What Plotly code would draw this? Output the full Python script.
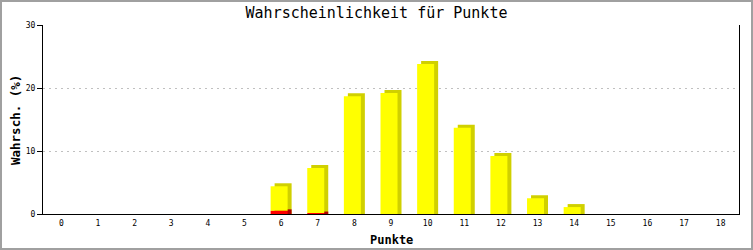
import plotly.graph_objects as go

# ---- data ----
punkte = list(range(19))
tick_labels = [str(p) for p in punkte]
red_vals = [0, 0, 0, 0, 0, 0, 0.5, 0.15, 0, 0, 0, 0, 0, 0, 0, 0, 0, 0, 0]
total_vals = [0, 0, 0, 0, 0, 0, 4.4, 7.3, 18.7, 19.2, 23.8, 13.7, 9.2, 2.5, 1.1, 0, 0, 0, 0]
yellow_vals = [t - r for t, r in zip(total_vals, red_vals)]

title_text = "Wahrscheinlichkeit für Punkte"
x_title = "Punkte"
y_title = "Wahrsch. (%)"

# ---- geometry / style ----
W, H = 753, 250
ML, MR, MT, MB = 43, 14, 25, 36
PW, PH = W - ML - MR, H - MT - MB
px_x = 19 / PW          # data units per px in x
px_y = 30 / PH          # data units per px in y
bar_w = 17 * px_x
front_off = -10.5 * px_x
depth_x = 4 * px_x
depth_y = 3 * px_y

YEL, YEL_D = "#ffff00", "#d0d000"
RED, RED_D = "#ff0000", "#b00000"

shadow_y = [t + depth_y if t > 0 else None for t in total_vals]
red_shadow = [r + depth_y * 0.5 if r > 0 else None for r in red_vals]
red_front = [r if r > 0 else None for r in red_vals]
yel_front = [y if y > 0 else None for y in yellow_vals]

fig = go.Figure()
common = dict(width=[bar_w] * len(punkte), hoverinfo="skip", showlegend=False)
fig.add_bar(x=punkte, y=shadow_y, base=0, offset=front_off + depth_x,
            marker=dict(color=YEL_D, line=dict(width=0)), **common)
fig.add_bar(x=punkte, y=red_shadow, base=0, offset=front_off + depth_x,
            marker=dict(color=RED_D, line=dict(width=0)), **common)
fig.add_bar(x=punkte, y=yel_front, base=red_vals, offset=front_off,
            marker=dict(color=YEL, line=dict(width=0)), **common)
fig.add_bar(x=punkte, y=red_front, base=0, offset=front_off,
            marker=dict(color=RED, line=dict(width=0)), **common)

mono = "DejaVu Sans Mono"
fig.update_layout(
    width=W, height=H,
    margin=dict(l=ML, r=MR, t=MT, b=MB, pad=0, autoexpand=False),
    barmode="overlay",
    paper_bgcolor="white", plot_bgcolor="white",
    title=dict(text=title_text, x=0.5, xanchor="center",
               y=1 - 13 / H, yanchor="middle", yref="container",
               font=dict(family=mono, size=15, color="black")),
    xaxis=dict(range=[-0.5, 18.5], tickmode="array", tickvals=punkte,
               ticktext=tick_labels, ticks="", showgrid=False, zeroline=False,
               showline=True, linecolor="black", linewidth=1,
               ticklabelstandoff=1, automargin=False,
               tickfont=dict(family=mono, size=8, color="black")),
    yaxis=dict(range=[0, 30], dtick=10, ticks="outside", ticklen=5,
               tickcolor="black", showline=True, linecolor="black", linewidth=1,
               mirror=True, zeroline=False, automargin=False,
               showgrid=True, gridcolor="#c0c0c0", griddash="2px,4px", gridwidth=1,
               tickfont=dict(family=mono, size=8, color="black")),
    annotations=[
        dict(text=x_title, xref="paper", yref="paper", showarrow=False,
             x=0.5, y=-(240 - (H - MB)) / PH, xanchor="center", yanchor="middle",
             font=dict(family=mono, size=12, color="black", weight="bold")),
        dict(text=y_title, xref="paper", yref="paper", showarrow=False,
             x=(15 - ML) / PW, y=((H - MB) - 120) / PH, textangle=-90,
             xanchor="center", yanchor="middle",
             font=dict(family=mono, size=12.5, color="black", weight="bold")),
    ],
    shapes=[dict(type="rect", xref="paper", yref="paper",
                 x0=(-ML + 1) / PW, x1=(W - ML - 1) / PW,
                 y0=(-MB + 1) / PH, y1=(H - MB - 1) / PH,
                 line=dict(color="#a0a0a0", width=2), layer="above")],
)

fig.write_html("out.html")
